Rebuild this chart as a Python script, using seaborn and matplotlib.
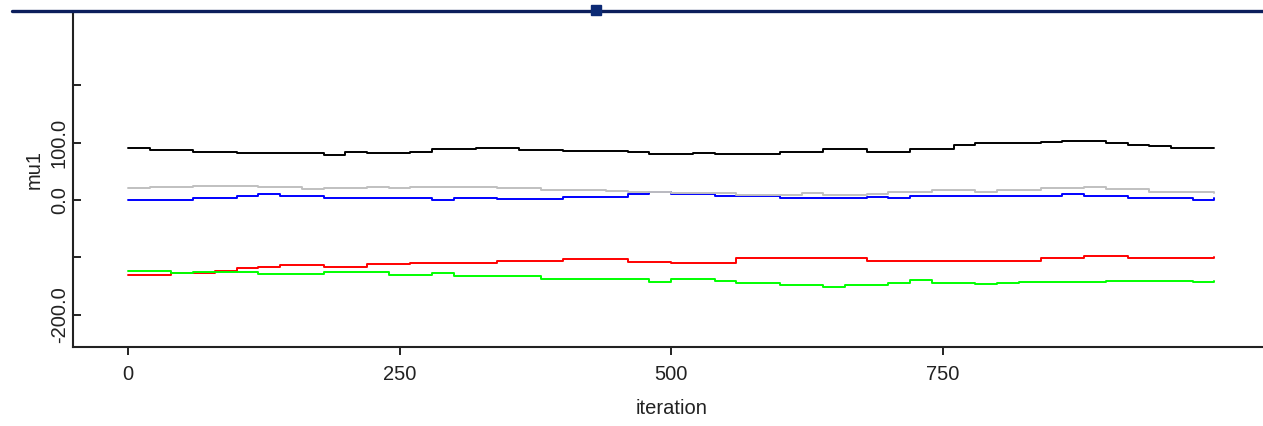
import numpy as np
import pandas as pd
import matplotlib
matplotlib.use("Agg")
import matplotlib.pyplot as plt
from matplotlib.lines import Line2D
import seaborn as sns

# ---- data ----
iterations = list(range(0, 1001, 20))

chain_black = [91, 87, 87, 84, 84, 81, 82, 81, 81, 78, 84, 81, 81, 84, 88, 88, 91,
               91, 87, 87, 86, 86, 86, 83, 80, 80, 82, 80, 80, 80, 83, 83, 88, 88,
               84, 84, 88, 88, 96, 99, 99, 99, 101, 103, 103, 99, 96, 94, 91, 91, 91]
chain_grey = [20, 23, 23, 25, 25, 25, 23, 22, 19, 21, 21, 23, 21, 23, 23, 23, 23,
              20, 20, 17, 17, 17, 16, 14, 14, 13, 13, 13, 9, 9, 9, 13, 9, 9,
              10, 14, 14, 17, 17, 14, 17, 17, 20, 20, 22, 19, 19, 14, 14, 14, 12]
chain_blue = [0, 0, 0, 3, 3, 7, 10, 7, 7, 3, 3, 3, 3, 3, 0, 3, 3,
              2, 1, 1, 5, 5, 5, 10, 14, 10, 10, 7, 7, 7, 3, 3, 3, 3,
              6, 3, 7, 7, 7, 7, 7, 7, 7, 10, 7, 7, 3, 3, 3, 0, 3]
chain_red = [-130, -130, -127, -127, -123, -119, -116, -113, -113, -116, -116, -112,
             -112, -109, -109, -109, -109, -106, -106, -106, -103, -103, -103, -107,
             -107, -109, -109, -109, -101, -101, -101, -101, -101, -101, -106, -106,
             -106, -106, -106, -106, -106, -106, -101, -101, -97, -97, -101, -101,
             -101, -101, -99]
chain_green = [-123, -123, -127, -125, -126, -126, -129, -129, -129, -126, -126, -126,
               -130, -130, -127, -132, -132, -133, -133, -137, -137, -137, -137, -137,
               -142, -137, -137, -141, -144, -144, -147, -147, -151, -148, -148, -144,
               -140, -145, -145, -146, -144, -142, -142, -142, -142, -141, -141, -141,
               -141, -143, -141]

chain_names = ["chain 1", "chain 2", "chain 3", "chain 4", "chain 5"]
chain_values = [chain_red, chain_green, chain_blue, chain_grey, chain_black]
chain_colors = ["#ff0000", "#00ff00", "#0000ff", "#c0c0c0", "#000000"]

y_ticks = [-200, -100, 0, 100, 200]
y_ticklabels = ["-200.0", "", "0.0", "100.0", ""]
x_ticks = [0, 250, 500, 750]
x_ticklabels = ["0", "250", "500", "750"]

df = pd.DataFrame({
    "iteration": np.tile(iterations, len(chain_names)),
    "mu1": np.concatenate(chain_values),
    "chain": np.repeat(chain_names, len(iterations)),
})

# ---- style ----
sns.set_style("white")
plt.rcParams["font.family"] = ["Liberation Sans Narrow", "Liberation Sans", "DejaVu Sans"]

fig = plt.figure(figsize=(12.63, 4.26), dpi=100)
ax = fig.add_axes([73 / 1263, 79 / 426, 1190 / 1263, 335 / 426])

sns.lineplot(data=df, x="iteration", y="mu1", hue="chain", hue_order=chain_names,
             palette=dict(zip(chain_names, chain_colors)), estimator=None,
             sort=False, drawstyle="steps-post", linewidth=1.4, legend=False, ax=ax)

ax.set_xlim(-50.6, 1044.7)
ax.set_ylim(-255.7, 327)

ax.set_xticks(x_ticks)
ax.set_xticklabels(x_ticklabels)
ax.set_yticks(y_ticks)
ax.set_yticklabels(y_ticklabels, rotation=90, va="center")

ax.tick_params(axis="x", bottom=True, direction="out", length=6, width=1.4, pad=7,
               labelsize=14.5, colors="#222222")
ax.tick_params(axis="y", left=True, direction="in", length=6, width=1.4, pad=3,
               labelsize=14.5, colors="#222222")

for side in ["top", "right"]:
    ax.spines[side].set_visible(False)
for side in ["left", "bottom"]:
    ax.spines[side].set_color("#222222")
    ax.spines[side].set_linewidth(1.5)

ax.set_xlabel("iteration", fontsize=14.5, color="#222222")
ax.set_ylabel("mu1", fontsize=14.5, color="#222222")
ax.xaxis.set_label_coords(0.503, -0.155)
ax.yaxis.set_label_coords(-0.025, 0.53)

# window splitter line at the very top
fig.add_artist(Line2D([12 / 1263, 1.0], [1 - 11 / 426, 1 - 11 / 426],
                      transform=fig.transFigure, color="#0c1f5c", linewidth=2.4))
fig.add_artist(Line2D([596 / 1263], [1 - 10 / 426], transform=fig.transFigure,
                      marker="s", markersize=7.5, color="#0c2a75", linestyle="none"))

fig.savefig("out.png", dpi=100)
